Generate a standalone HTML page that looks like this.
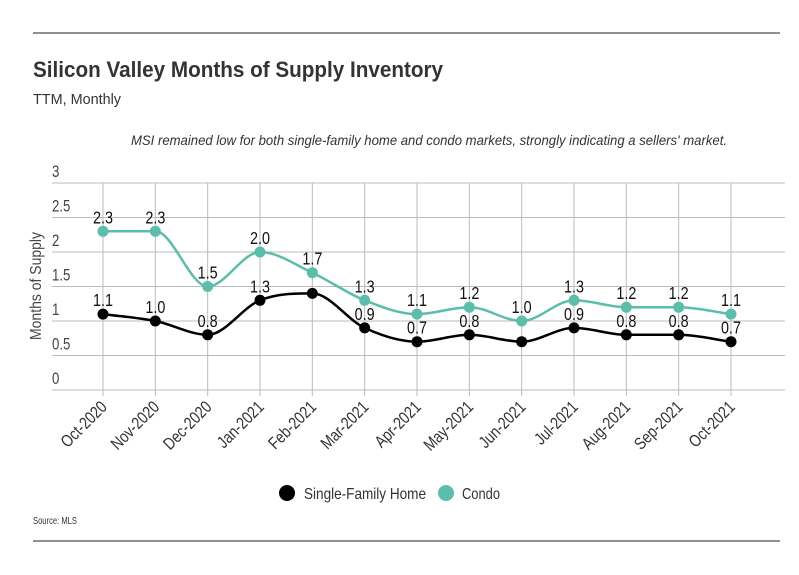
<!DOCTYPE html>
<html><head><meta charset="utf-8"><style>
body{margin:0;background:#fff;}
svg{display:block;font-family:"Liberation Sans",sans-serif;}
</style></head><body>
<svg id="chart" width="799" height="575">
<line x1="33" y1="33" x2="780" y2="33" stroke="#222" stroke-width="1"/>
<text x="33" y="77" font-size="22" font-weight="bold" fill="#333" textLength="410" lengthAdjust="spacingAndGlyphs">Silicon Valley Months of Supply Inventory</text>
<text x="33" y="104" font-size="15" fill="#333" textLength="88" lengthAdjust="spacingAndGlyphs">TTM, Monthly</text>
<text x="131" y="145" font-size="14" font-style="italic" fill="#333" textLength="596" lengthAdjust="spacingAndGlyphs">MSI remained low for both single-family home and condo markets, strongly indicating a sellers' market.</text>
<text transform="translate(41,286) rotate(-90)" font-size="16" fill="#444" text-anchor="middle" textLength="108" lengthAdjust="spacingAndGlyphs">Months of Supply</text>
<g id="grid"></g><g id="series"></g><g id="xlabels"></g>
<g>
<g><circle cx="287" cy="493" r="8" fill="#000"/><text x="304" y="499" font-size="16" fill="#333" textLength="122" lengthAdjust="spacingAndGlyphs">Single-Family Home</text></g>
<g><circle cx="446" cy="493" r="8" fill="#5bbdaa"/><text x="462" y="499" font-size="16" fill="#333" textLength="38" lengthAdjust="spacingAndGlyphs">Condo</text></g>
</g>
<text x="33" y="524" font-size="10" fill="#333" textLength="44" lengthAdjust="spacingAndGlyphs">Source:  MLS</text>
<line x1="33" y1="541" x2="780" y2="541" stroke="#222" stroke-width="1"/>
</svg>
<script>
const categories=["Oct-2020","Nov-2020","Dec-2020","Jan-2021","Feb-2021","Mar-2021","Apr-2021","May-2021","Jun-2021","Jul-2021","Aug-2021","Sep-2021","Oct-2021"];
const singleFamily=[1.1,1.0,0.8,1.3,1.4,0.9,0.7,0.8,0.7,0.9,0.8,0.8,0.7];
const condo=[2.3,2.3,1.5,2.0,1.7,1.3,1.1,1.2,1.0,1.3,1.2,1.2,1.1];
const singleFamilyShowLabel=[true,true,true,true,false,true,true,true,false,true,true,true,true];
const yTicks=[0,0.5,1,1.5,2,2.5,3];
const yTickLabels=["0","0.5","1","1.5","2","2.5","3"];
const NS="http://www.w3.org/2000/svg";
const x=i=>103+i*(731-103)/(categories.length-1);
const y=v=>390-v*(390-183)/3;
function el(t,a,p){const e=document.createElementNS(NS,t);for(const k in a)e.setAttribute(k,a[k]);p.appendChild(e);return e;}
const grid=document.getElementById('grid'),ser=document.getElementById('series'),xl=document.getElementById('xlabels');
yTicks.forEach((t,i)=>{
 const l=el('line',{x1:52,x2:785,y1:y(t),y2:y(t),stroke:'#bbb','stroke-width':1},grid);
 
 
 const tx=el('text',{x:0,y:0,'font-size':17,fill:'#444',transform:`translate(52,${y(t)-6}) scale(0.78,1)`},grid);tx.textContent=yTickLabels[i];
 
 
});
categories.forEach((c,i)=>{
 const l=el('line',{x1:x(i),x2:x(i),y1:183,y2:396,stroke:'#bbb','stroke-width':1},grid);
 
 
 const tx=el('text',{x:0,y:0,'font-size':17,fill:'#333','text-anchor':'end',transform:`translate(${x(i)+5},${408}) rotate(-45) scale(0.82,1)`},xl);tx.textContent=c;
 
 
});
function monotone(pts){
 const n=pts.length,d=[],m=[];
 for(let i=0;i<n-1;i++)d.push((pts[i+1][1]-pts[i][1])/(pts[i+1][0]-pts[i][0]));
 m.push(d[0]);
 for(let i=1;i<n-1;i++){const a=d[i-1],b=d[i];let v=a*b<=0?0:(a+b)/2;const s=Math.min(Math.abs(v),3*Math.abs(a),3*Math.abs(b));m.push(Math.sign(v)*s);}
 m.push(d[n-2]);
 let s=`M${pts[0][0]},${pts[0][1]}`;
 for(let i=0;i<n-1;i++){const h=(pts[i+1][0]-pts[i][0])/3;
  s+=`C${pts[i][0]+h},${pts[i][1]+h*m[i]} ${pts[i+1][0]-h},${pts[i+1][1]-h*m[i+1]} ${pts[i+1][0]},${pts[i+1][1]}`;}
 return s;
}
function draw(vals,color,name,show){
 const p=el('path',{d:monotone(vals.map((v,i)=>[x(i),y(v)])),fill:'none',stroke:color,'stroke-width':2.5},ser);
 
 
 vals.forEach((v,i)=>{
  const c=el('circle',{cx:x(i),cy:y(v),r:5.5,fill:color},ser);
  
  
  if(!show||show[i]){const t=el('text',{x:0,y:0,'font-size':18,fill:'#111','text-anchor':'middle',transform:`translate(${x(i)},${y(v)-8}) scale(0.8,1)`},ser);t.textContent=v.toFixed(1);
  
  }
 });
}
draw(condo,'#5bbdaa','condo',null);
draw(singleFamily,'#000','single-family',singleFamilyShowLabel);
</script>
</body></html>
